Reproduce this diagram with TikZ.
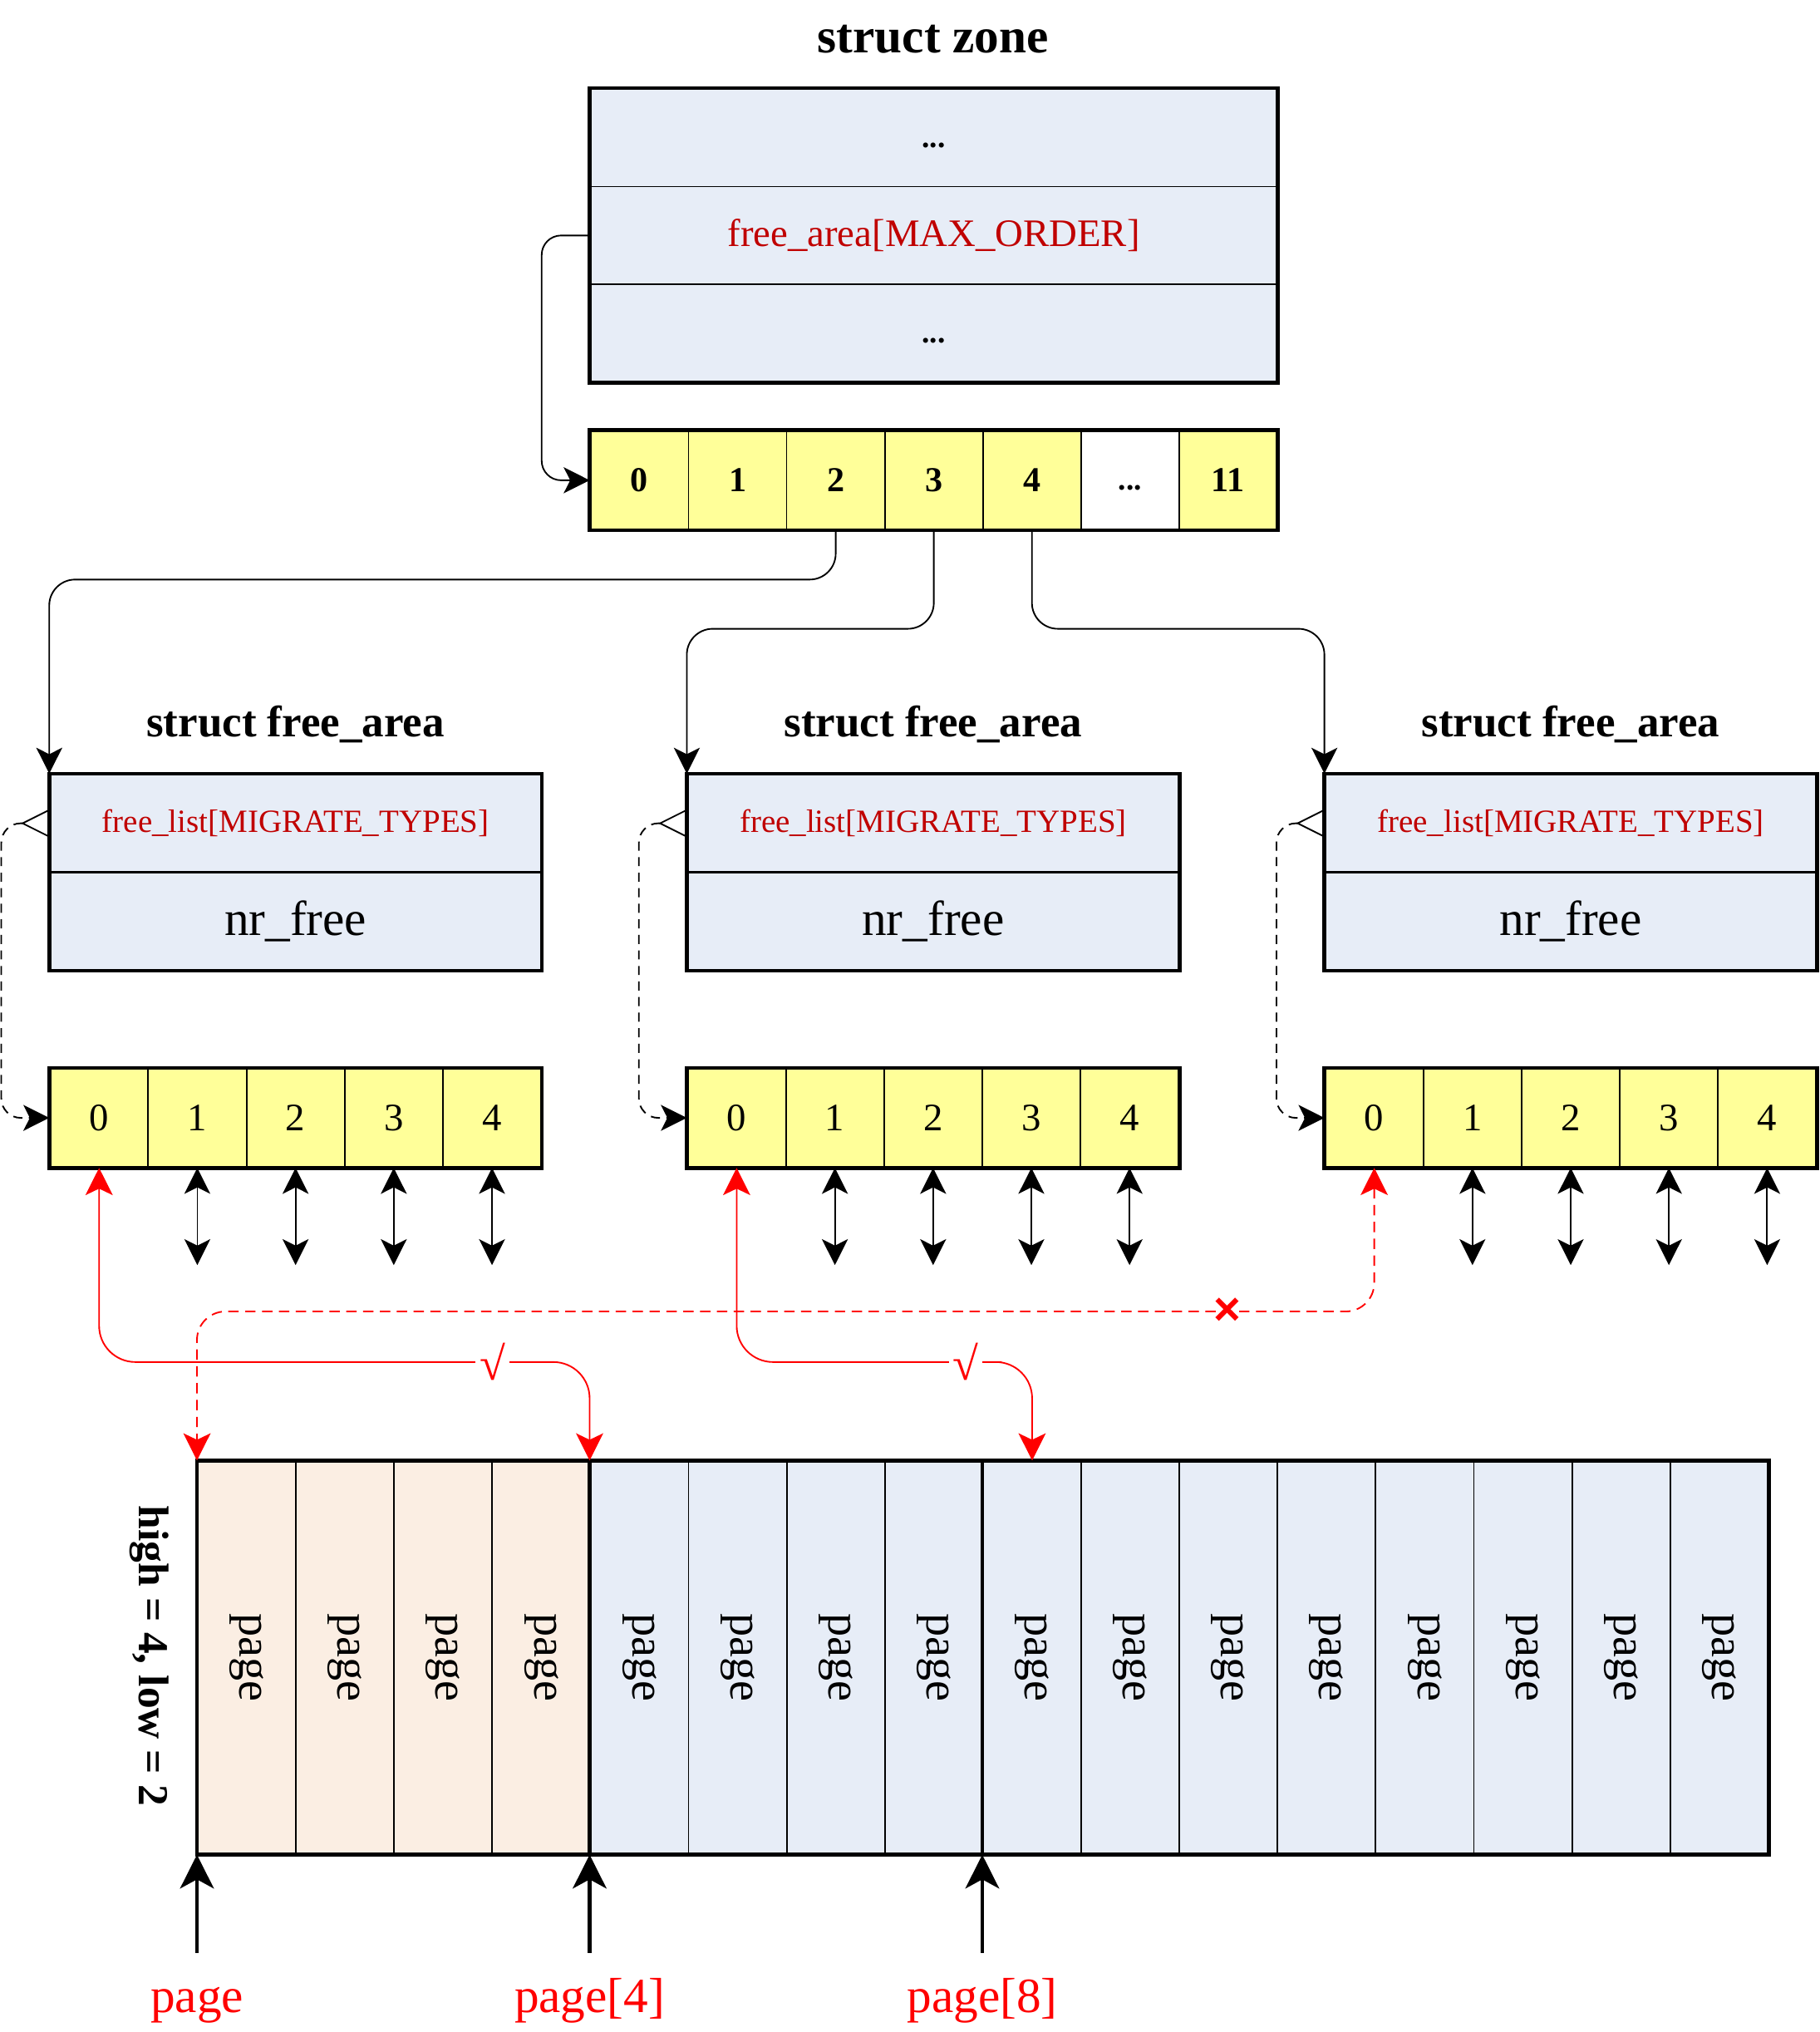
\documentclass[tikz,border=0pt]{standalone}
\usepackage{fontspec}
\setmainfont{Liberation Serif}
\newfontfamily\marksans{Liberation Sans}
\usepackage{graphicx}
\usepackage{tikz}
\usetikzlibrary{arrows.meta,positioning}
\usepackage{xcolor}
\definecolor{FieldBlue}{RGB}{231,237,247}
\definecolor{SlotYellow}{RGB}{255,255,153}
\definecolor{PagePeach}{RGB}{251,238,227}
\definecolor{FieldRed}{RGB}{192,0,0}
\definecolor{PtrRed}{RGB}{255,0,0}
\newcommand{\fsz}[1]{\fontsize{#1}{#1}\selectfont}

\begin{document}
\begin{tikzpicture}[x=1pt, y=-1pt,
  field/.style={draw, line width=1.2pt, fill=FieldBlue, minimum width=#1, minimum height=75.4pt, inner sep=0pt, anchor=north west},
  slot/.style={draw, line width=1.2pt, fill=SlotYellow, minimum width=75.75pt, minimum height=76pt, inner sep=0pt, anchor=north west},
  pagecell/.style={draw, line width=1.2pt, minimum width=75.75pt, minimum height=303pt, inner sep=0pt, anchor=north west},
  dots/.style={font=\fsz{24}\bfseries, text height=15pt, text depth=0pt},
  boxrim/.style={line width=3pt},
  link/.style={line width=1.2pt, -{Stealth[length=20pt,width=20pt,inset=5pt]}},
  dashlink/.style={line width=1.2pt, dash pattern=on 7pt off 5pt, {Straight Barb[reversed,length=20pt,width=20pt]}-{Stealth[length=20pt,width=20pt,inset=5pt]}},
  biarrow/.style={line width=1.2pt, {Stealth[length=20pt,width=20pt,inset=5pt]}-{Stealth[length=20pt,width=20pt,inset=5pt]}},
  redlink/.style={PtrRed, line width=1.2pt, {Stealth[length=21pt,width=21pt,inset=5pt]}-{Stealth[length=21pt,width=21pt,inset=5pt]}},
  ptrarrow/.style={line width=3pt, -{Stealth[length=26pt,width=26pt,inset=7pt]}},
  ptrlabel/.style={anchor=north, text=PtrRed, font=\fsz{38}, inner xsep=0pt, inner ysep=20pt, text height=26pt, text depth=8pt}]
\useasboundingbox (0,0) rectangle (1404,1568);

\node[font=\fsz{38}\bfseries] (zonetitle) at (720,30) {struct zone};
\node[field=530pt, dots] (zr1) at (455,68) {...};
\node[field=530pt, font=\fsz{30}, text=FieldRed] (zr2) at (455,143.4) {free\_area[MAX\_ORDER]};
\node[field=530pt, dots] (zr3) at (455,218.8) {...};
\draw[boxrim] (zr1.north west) rectangle (zr3.south east);

\foreach \i/\lab in {0/0,1/1,2/2,3/3,4/4,6/11}
  \node[slot, font=\fsz{27}\bfseries] (za\i) at ({455+75.71*\i},332) {\lab};
\node[slot, fill=white, dots] (za5) at ({455+75.71*5},332) {...};
\draw[boxrim] (za0.north west) rectangle (za6.south east);

\foreach \k/\x in {1/38,2/530,3/1022} {
  \node[font=\fsz{34}\bfseries] (fat\k) at ({\x+190},559) {struct free\_area};
  \node[field=379pt, font=\fsz{25}, text=FieldRed] (fl\k) at (\x,597) {free\_list[MIGRATE\_TYPES]};
  \node[field=379pt, font=\fsz{38}] (nf\k) at (\x,672.5) {nr\_free};
  \draw[boxrim] (fl\k.north west) rectangle (nf\k.south east);
  \foreach \j in {0,...,4}
    \node[slot, font=\fsz{30}] (ar\k-\j) at ({\x+75.8*\j},824) {\j};
  \draw[boxrim] (ar\k-0.north west) rectangle (ar\k-4.south east);
  \draw[dashlink, rounded corners=15pt] (fl\k.west) -- ++(-37,0) |- (ar\k-0.west);
  \foreach \j in {1,...,4}
    \draw[biarrow] (ar\k-\j.south) -- ++(0,75);
}

\draw[link, rounded corners=15pt] (zr2.west) -- ++(-37,0) |- (za0.west);
\draw[link, rounded corners=20pt] (za2.south) -- ++(0,38) -| (fl1.north west);
\draw[link, rounded corners=20pt] (za3.south) -- ++(0,76) -| (fl2.north west);
\draw[link, rounded corners=20pt] (za4.south) -- ++(0,76) -| (fl3.north west);

\foreach \i in {0,...,15} {
  \ifnum\i<4 \def\pc{PagePeach}\else\def\pc{FieldBlue}\fi
  \node[pagecell, fill=\pc] (pg\i) at ({152+75.75*\i},1127) {\rotatebox{-90}{\fsz{36}page}};
}
\draw[boxrim] (pg0.north west) rectangle (pg15.south east);
\draw[boxrim] (pg4.north west) -- (pg4.south west);
\draw[boxrim] (pg8.north west) -- (pg8.south west);
\node[font=\fsz{33}\bfseries, rotate=-90] (order) at (115,1278) {high = 4, low = 2};

\foreach \i/\lab in {0/page,4/page[4],8/page[8]} {
  \node[ptrlabel] (lbl\i) at ({152+75.75*\i},1507) {\lab};
  \draw[ptrarrow] (lbl\i.north) -- (pg\i.south west);
}

\coordinate (ok1) at (380,1051);
\coordinate (ok2) at (745,1051);
\coordinate (nope) at (947,1012);
\draw[redlink, rounded corners=28pt] (ar1-0.south) |- (ok1) -| (pg4.north west);
\draw[redlink, rounded corners=28pt] (ar2-0.south) |- (ok2) -| (pg8.north);
\draw[redlink, dash pattern=on 8pt off 5pt, rounded corners=22pt] (ar3-0.south) |- (nope) -| (pg0.north west);
\node[fill=white, text=PtrRed, font=\fsz{36}, inner sep=3pt] (okmark1) at (ok1) {√};
\node[fill=white, text=PtrRed, font=\fsz{36}, inner sep=3pt] (okmark2) at (ok2) {√};
\node[text=PtrRed, font=\marksans\fsz{36}\bfseries, inner sep=0pt] (nopemark) at (nope) {×};
\end{tikzpicture}
\end{document}
